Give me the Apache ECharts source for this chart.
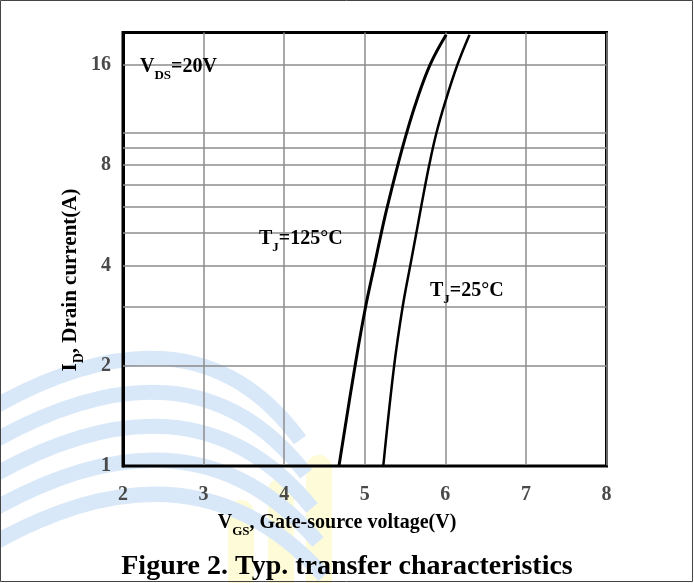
<!DOCTYPE html>
<html>
<head>
<meta charset="utf-8">
<script src="https://cdn.jsdelivr.net/npm/echarts@6/dist/echarts.min.js"></script>
<style>html,body{margin:0;padding:0;background:#fff}#c{width:694px;height:583px}</style>
</head>
<body>
<div id="c"></div>
<script>
// ---- data ----
const currentA = [1, 2, 3, 4, 5, 6, 8, 10, 12.4, 16, 19.7];
const vgs125 = [4.68, 4.88, 5.01, 5.12, 5.205, 5.28, 5.41, 5.52, 5.64, 5.81, 6.01];
const vgs25  = [5.23, 5.365, 5.47, 5.565, 5.64, 5.70, 5.80, 5.89, 6.00, 6.15, 6.30];
const yTickLabels = [1, 2, 4, 8, 16];
const yGridValues = [2, 3, 4, 5, 6, 7, 8, 9, 10, 16];
const xTickLabels = [2, 3, 4, 5, 6, 7, 8];

const FONT = '"Liberation Serif", "Times New Roman", serif';
const chart = echarts.init(document.getElementById('c'), null, {renderer: 'canvas'});

function pairs(vs, is) { return vs.map((v, i) => [v, is[i]]); }

// watermark shapes (decorative)
const wm = [];
for (let k = 0; k < 5; k++) {
  const o = k * 34;
  wm.push({
    type: 'bezierCurve', z: -10, silent: true,
    shape: { x1: -20, y1: 415 + o, cpx1: 190, cpy1: 290 + o, x2: 300 + k * 6, y2: 440 + o },
    style: { stroke: '#d8e8f8', lineWidth: 15, fill: null }
  });
}
[[228, 500], [268, 478], [306, 455]].forEach(function (b) {
  wm.push({ type: 'rect', z: -11, silent: true,
    shape: { x: b[0], y: b[1], width: 26, height: 583 - b[1], r: [13, 13, 0, 0] },
    style: { fill: '#fdfbd8' } });
});

const sub = function (big, small) {
  return {
    a: { fontFamily: FONT, fontWeight: 'bold', fontSize: big, color: '#000', verticalAlign: 'bottom', lineHeight: 22 },
    s: { fontFamily: FONT, fontWeight: 'bold', fontSize: small, color: '#000', verticalAlign: 'bottom', lineHeight: 15, padding: [0, 0, -5, 0] }
  };
};

const option = {
  animation: false,
  backgroundColor: '#fff',
  title: {
    text: 'Figure 2. Typ. transfer characteristics',
    left: 'center', top: 548,
    textStyle: { fontFamily: FONT, fontWeight: 'bold', fontSize: 28, color: '#000' }
  },
  grid: {
    left: 123, right: 87.5, top: 32.5, bottom: 117,
    show: true, borderColor: '#000', borderWidth: 3, backgroundColor: 'transparent'
  },
  xAxis: {
    type: 'value', min: 2, max: 8, interval: 1,
    axisLine: { show: true, lineStyle: { color: '#000', width: 2 } },
    axisTick: { show: false },
    splitLine: { show: true, lineStyle: { color: '#8c8c8c', width: 1.5 } },
    axisLabel: {
      margin: 19, color: '#4a4a4a', fontFamily: FONT, fontWeight: 'bold', fontSize: 20,
      formatter: function (v) { return xTickLabels.indexOf(v) >= 0 ? String(v) : ''; }
    }
  },
  yAxis: {
    type: 'log', logBase: 2, min: 1, max: 20,
    axisLine: { show: true, lineStyle: { color: '#000', width: 3 } },
    axisTick: { show: false },
    splitLine: { show: false },
    axisLabel: {
      margin: 12, color: '#4a4a4a', fontFamily: FONT, fontWeight: 'bold', fontSize: 20,
      showMaxLabel: false,
      formatter: function (v) {
        const r = Math.round(v);
        return (Math.abs(v - r) < 1e-6 && yTickLabels.indexOf(r) >= 0) ? String(r) : '';
      }
    }
  },
  graphic: wm.concat([
    { type: 'rect', silent: true, z: 100,
      shape: { x: 0.5, y: 0.5, width: 692, height: 581 },
      style: { fill: null, stroke: '#444', lineWidth: 1 } },
    { type: 'text', x: 140, y: 55, z: 50,
      style: { text: '{a|V}{s|DS}{a|=20V}', rich: sub(20, 13) } },
    { type: 'text', x: 259, y: 227, z: 50,
      style: { text: '{a|T}{s|J}{a|=125°C}', rich: sub(20, 13) } },
    { type: 'text', x: 430, y: 279, z: 50,
      style: { text: '{a|T}{s|J}{a|=25°C}', rich: sub(20, 13) } },
    { type: 'text', x: 337, y: 522, z: 50,
      style: { text: '{a|V}{s|GS}{a|, Gate-source voltage(V)}', align: 'center', verticalAlign: 'middle', rich: sub(20, 13) } },
    { type: 'text', x: 70, y: 280, z: 50, rotation: Math.PI / 2,
      style: { text: '{a|I}{s|D}{a|, Drain current(A)}', align: 'center', verticalAlign: 'middle', rich: sub(21, 14) } }
  ]),
  series: [
    {
      name: 'grid', type: 'line', data: [], silent: true,
      markLine: {
        silent: true, symbol: 'none', label: { show: false },
        lineStyle: { color: '#8c8c8c', width: 1.5, type: 'solid' },
        data: yGridValues.map(v => ({ yAxis: v }))
      }
    },
    {
      name: 'TJ=125°C', type: 'line', smooth: 0.4, showSymbol: false, z: 5,
      lineStyle: { color: '#000', width: 3 },
      data: pairs(vgs125, currentA)
    },
    {
      name: 'TJ=25°C', type: 'line', smooth: 0.4, showSymbol: false, z: 5,
      lineStyle: { color: '#000', width: 2.5 },
      data: pairs(vgs25, currentA)
    }
  ]
};
chart.setOption(option);
</script>
</body>
</html>
